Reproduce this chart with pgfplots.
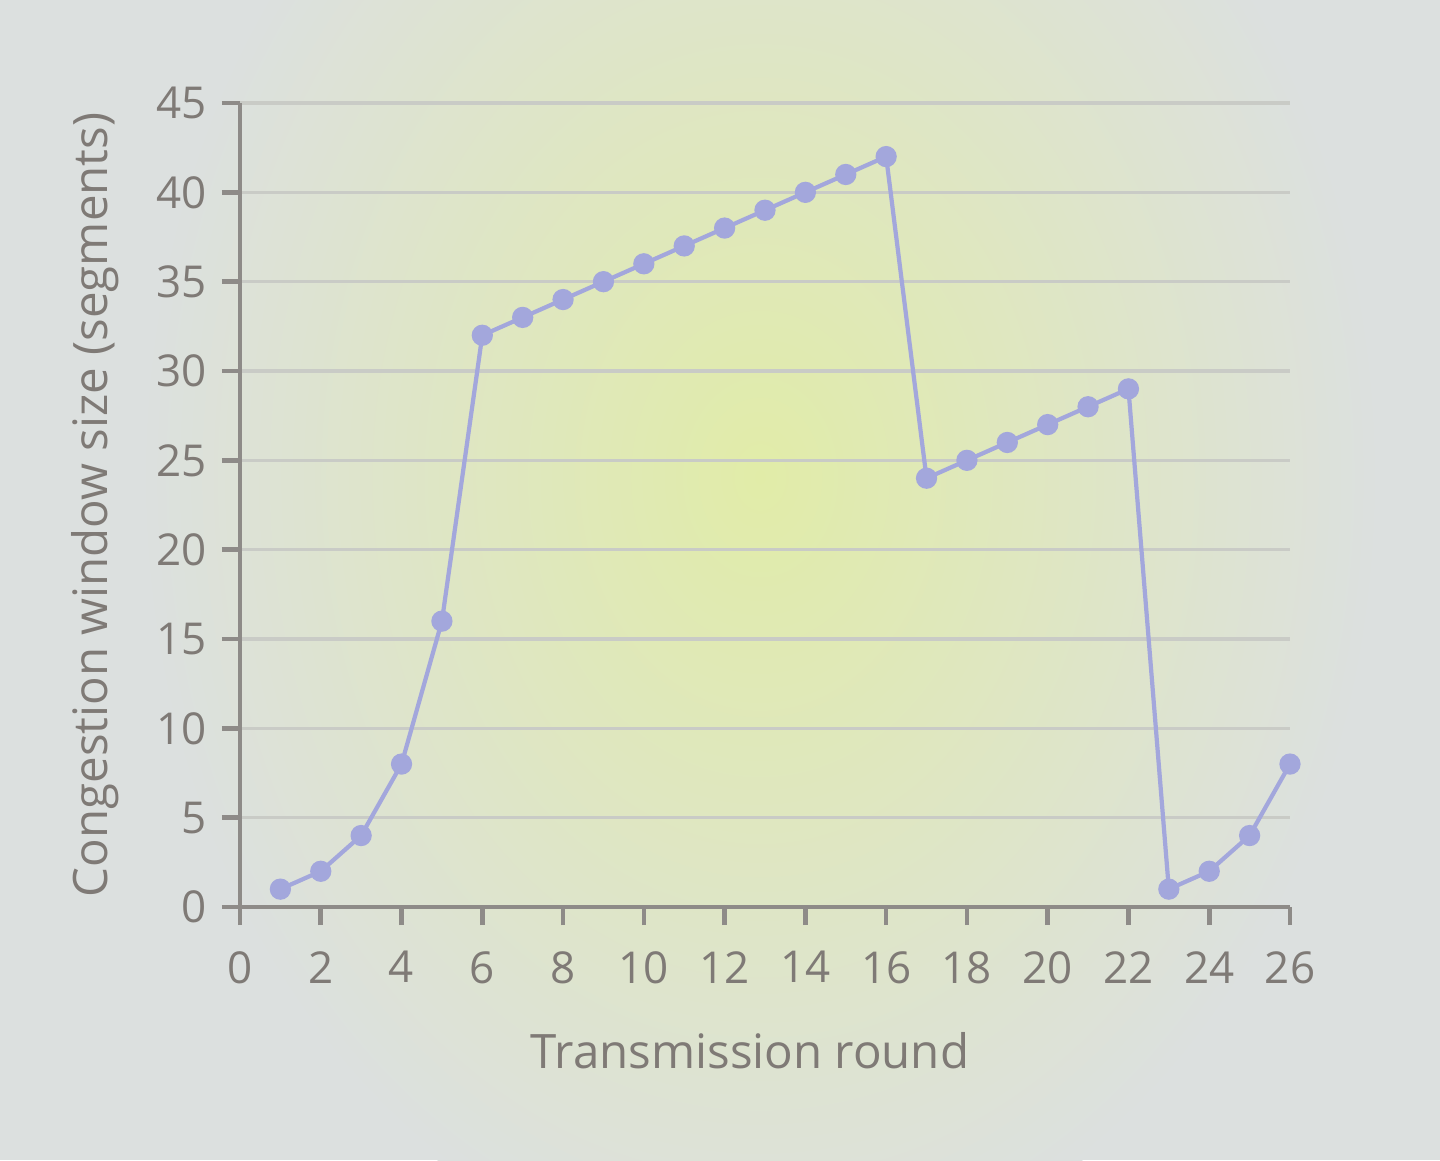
\documentclass[border=0pt]{standalone}
\usepackage{pgfplots}
\pgfplotsset{compat=1.18}
\usepackage{fontspec}
\setmainfont{Open Sans}
\definecolor{bg}{HTML}{DCE0DF}
\definecolor{glow}{HTML}{E1ECA8}
\definecolor{txt}{HTML}{7F7A76}
\definecolor{axc}{HTML}{8E8B88}
\definecolor{gridc}{HTML}{C9CBC6}
\definecolor{cwnd}{HTML}{A3A7DC}

\begin{document}
\begin{tikzpicture}[font=\fontsize{12.5}{14}\selectfont]
% background of the photographed slide
\path[use as bounding box, fill=bg] (-24mm,-25.3mm) rectangle (120mm,90.7mm);
\begin{scope}
  \clip (-24mm,-25.3mm) rectangle (120mm,90.7mm);
  \shade[inner color=glow, outer color=bg] (52mm,43mm) ellipse (62mm and 80mm);
\end{scope}

\begin{axis}[
    scale only axis,
    width=105mm, height=80.4mm,
    xmin=0, xmax=26, ymin=0, ymax=45,
    axis lines*=left,
    axis line style={axc, line width=1.3pt},
    xtick={0,2,...,26}, ytick={0,5,...,45},
    tick align=outside,
    major tick length=1.8mm,
    tick style={axc, line width=1.3pt},
    ymajorgrids,
    grid style={gridc, line width=0.9pt},
    ticklabel style={text=txt},
    xticklabel style={yshift=-1.4mm},
    yticklabel style={xshift=-0.3mm},
    /pgf/number format/assume math mode=true,
    clip=false,
]
\addplot[cwnd, line width=1.2pt, mark=*, mark size=0.85mm,
         mark options={fill=cwnd, draw=cwnd}] coordinates {
    (1,1) (2,2) (3,4) (4,8) (5,16) (6,32) (7,33) (8,34) (9,35)
    (10,36) (11,37) (12,38) (13,39) (14,40) (15,41) (16,42)
    (17,24) (18,25) (19,26) (20,27) (21,28) (22,29)
    (23,1) (24,2) (25,4) (26,8)
};
\end{axis}

\node[text=txt, anchor=base, font=\fontsize{13.5}{16}\selectfont] at (51mm,-16.1mm) {Transmission round};
\node[text=txt, rotate=90, font=\fontsize{13.5}{16}\selectfont] at (-14.5mm,40.2mm) {Congestion window size (segments)};
\end{tikzpicture}
\end{document}
